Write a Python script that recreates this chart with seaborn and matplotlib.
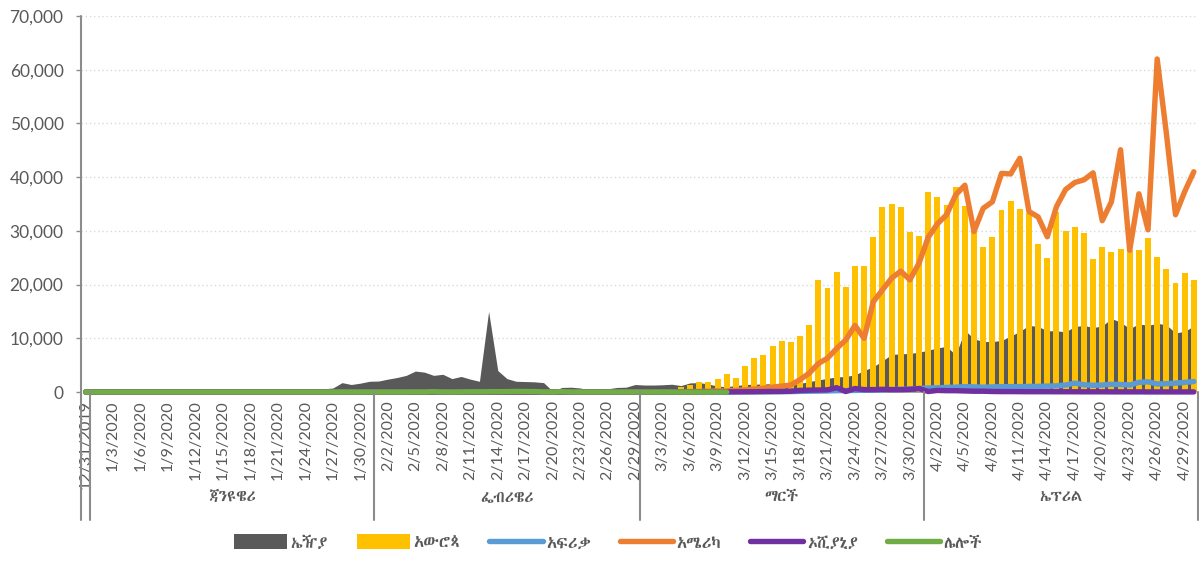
import matplotlib
matplotlib.use("Agg")
import matplotlib.pyplot as plt
import numpy as np
import pandas as pd
import seaborn as sns
from matplotlib import font_manager
from matplotlib.ft2font import FT2Font
from matplotlib.ticker import FuncFormatter

# categories: one per day, 12/31/2019 .. 4/30/2020
DATES = pd.date_range("2019-12-31", "2020-04-30", freq="D")
DATE_LABELS = [f"{d.month}/{d.day}/{d.year}" for d in DATES]
MONTH_NAMES = ["ጃንዩዌሪ", "ፌብሪዌሪ", "ማርች", "ኤፕሪል"]
SERIES = ["ኤዥያ", "አውሮጳ", "አፍሪቃ", "አሜሪካ", "ኦሺያኒያ", "ሌሎች"]

ASIA = [
    30,
    0, 0, 20, 0, 10, 0, 0, 0, 0, 0, 0, 0, 0, 0, 0, 0, 5, 20, 140, 20, 150, 140, 100, 270, 450, 600, 750, 1750, 1400, 1650, 2000,
    2050, 2400, 2700, 3100, 3900, 3700, 3100, 3300, 2500, 2900, 2400, 2000, 15000, 4000, 2500, 2000, 1950, 1900, 1750, 150,
    850, 900, 750, 350, 450, 600, 850, 900, 1400,
    1300, 1300, 1350, 1450, 1200, 1700, 1750, 1500, 1100, 1000, 1200, 1400, 1450, 1500, 1550, 1500, 1300, 1600, 1950, 2250,
    2550, 2800, 2900, 3200, 4000, 4700, 5800, 7000, 7100, 7200, 7400,
    7800, 8200, 8500, 6900, 11500, 9900, 9400, 9400, 9600, 10400, 11300, 12400, 12200, 11400, 11400, 11200, 12200, 12400,
    12000, 12300, 13700, 13000, 11800, 12700, 12400, 12800, 12500, 11000, 11300, 12300,
]
EUROPE = [
    0,
    0, 0, 0, 0, 0, 0, 0, 0, 0, 0, 0, 0, 0, 0, 0, 0, 0, 0, 0, 0, 0, 0, 0, 3, 0, 0, 1, 4, 0, 5, 0,
    2, 0, 0, 0, 0, 0, 1, 3, 4, 0, 1, 0, 1, 1, 0, 0, 0, 0, 0, 0, 3, 20, 80, 60, 100, 150, 250, 300, 350,
    400, 350, 450, 550, 870, 1300, 1800, 1860, 2420, 3350, 2670, 4900, 6330, 6890, 8630, 9430, 9400, 10430, 12410, 20920,
    19370, 22400, 19610, 23520, 23520, 28920, 34500, 35000, 34450, 29790, 29050,
    37300, 36250, 34820, 38110, 34630, 30300, 27060, 28800, 33890, 35560, 34070, 33400, 27500, 24890, 33580, 29980, 30660,
    29540, 24770, 27000, 26010, 26630, 26440, 26440, 28620, 25190, 22900, 20240, 22100, 20850,
]
AFRICA = [
    0,
    0, 0, 0, 0, 0, 0, 0, 0, 0, 0, 0, 0, 0, 0, 0, 0, 0, 0, 0, 0, 0, 0, 0, 0, 0, 0, 0, 0, 0, 0, 0,
    0, 0, 0, 0, 0, 0, 0, 0, 0, 0, 0, 0, 0, 1, 0, 0, 0, 0, 0, 0, 0, 0, 0, 0, 1, 0, 1, 0, 1,
    2, 3, 5, 8, 10, 12, 15, 15, 20, 20, 20, 30, 40, 50, 60, 80, 90, 120, 150, 170,
    200, 250, 270, 300, 330, 350, 400, 450, 500, 550, 650,
    750, 800, 850, 900, 1000, 950, 900, 950, 1000, 1000, 1000, 1050, 1050, 1100, 1150, 1300, 1650, 1350,
    1250, 1300, 1450, 1400, 1300, 1800, 1900, 1500, 1550, 1650, 1800, 1950,
]
AMERICAS = [
    0,
    0, 0, 0, 0, 0, 0, 0, 0, 0, 0, 0, 0, 0, 0, 0, 0, 0, 0, 0, 1, 0, 0, 1, 0, 1, 0, 0, 0, 0, 0, 1,
    1, 0, 1, 0, 0, 0, 0, 0, 0, 1, 0, 0, 0, 0, 0, 0, 0, 0, 0, 0, 0, 0, 0, 2, 2, 5, 8, 10, 12,
    15, 20, 30, 40, 60, 80, 100, 150, 200, 200, 300, 400, 550, 700, 900, 1100, 1300, 2300, 3500, 5300,
    6300, 8100, 9700, 12400, 10000, 16800, 19000, 21200, 22500, 20900, 24000,
    28800, 31300, 33000, 36700, 38500, 29900, 34200, 35400, 40700, 40600, 43500, 33600, 32600, 28900, 34500, 37700, 39000,
    39500, 40800, 31900, 35400, 45100, 26400, 36900, 30200, 62000, 48200, 33000, 37300, 41000,
]
OCEANIA = [
    0,
    0, 0, 0, 0, 0, 0, 0, 0, 0, 0, 0, 0, 0, 0, 0, 0, 0, 0, 0, 0, 0, 0, 0, 0, 1, 0, 0, 0, 0, 2, 0,
    1, 0, 0, 0, 0, 0, 0, 0, 0, 0, 0, 0, 0, 0, 0, 0, 0, 0, 0, 0, 0, 0, 0, 0, 0, 0, 1, 2, 3,
    5, 8, 10, 12, 15, 20, 20, 25, 25, 30, 40, 50, 60, 80, 100, 100, 150, 300, 350, 370,
    400, 800, 100, 650, 450, 450, 500, 450, 450, 500, 650,
    100, 300, 250, 250, 200, 150, 150, 100, 80, 80, 70, 60, 60, 60, 50, 50, 50, 40,
    40, 40, 30, 30, 30, 30, 20, 20, 20, 20, 20, 20,
]
# "other" only reported up to 3/10/2020
OTHER = [
    0,
    0, 0, 0, 0, 0, 0, 0, 0, 0, 0, 0, 0, 0, 0, 0, 0, 0, 0, 0, 0, 0, 0, 0, 0, 0, 0, 0, 0, 0, 0, 0,
    0, 0, 0, 0, 10, 0, 60, 0, 0, 6, 40, 40, 44, 67, 70, 99, 88, 79, 13, 0, 57, 0, 0, 0, 0, 0, 0, 0, 0,
    0, 0, 0, 0, 0, 0, 0, 0, 0, 0,
]

COLORS = ["#595959", "#FFC000", "#5B9BD5", "#ED7D31", "#7030A0", "#70AD47"]
TEXT = "#595959"
AXIS = "#8C8C8C"


def ethiopic_family(fallback="DejaVu Sans"):
    entries = sorted(font_manager.fontManager.ttflist,
                     key=lambda e: 0 if ("thiopic" in e.name or "Abyssinica" in e.name) else 1)
    for entry in entries:
        try:
            if 0x12A4 in FT2Font(entry.fname).get_charmap():
                return entry.name
        except Exception:
            continue
    return fallback


sns.set_theme(style="white")
plt.rcParams["font.family"] = ["Lato", "DejaVu Sans"]
eth = ethiopic_family()

fig = plt.figure(figsize=(11.99, 5.61), dpi=100)
ax = fig.add_axes([0.0676, 0.3012, 0.9319, 0.6703])

x = np.arange(len(DATES))
ax.fill_between(x, ASIA, 0, color=COLORS[0], lw=0, label=SERIES[0], zorder=1)
sns.barplot(x=x, y=EUROPE, color=COLORS[1], saturation=1, width=0.65, native_scale=True,
            errorbar=None, label=SERIES[1], ax=ax, zorder=2, linewidth=0)
for vals, col, name in zip([AFRICA, AMERICAS, OCEANIA, OTHER], COLORS[2:], SERIES[2:]):
    sns.lineplot(x=x[:len(vals)], y=vals, color=col, lw=3.9, label=name, ax=ax, clip_on=False,
                 solid_capstyle="round", solid_joinstyle="round", zorder=3)

ax.set_xlim(-0.5, len(x) - 0.5)
ax.set_ylim(0, 70000)
ax.set_yticks(np.arange(0, 70001, 10000))
ax.yaxis.set_major_formatter(FuncFormatter(lambda v, p: f"{v:,.0f}"))
ax.yaxis.grid(True, linestyle=(0, (1, 2)), color="#D9D9D9", lw=1)
ax.xaxis.grid(False)
ax.set_axisbelow(True)
for side in ["top", "right", "bottom", "left"]:
    ax.spines[side].set_visible(False)

ax.set_xticks(x[::3])
ax.set_xticklabels(DATE_LABELS[::3], rotation=90, fontsize=11.5, color=TEXT)
ax.tick_params(axis="x", length=0, pad=6)
ax.tick_params(axis="y", length=3.6, width=1, color=AXIS, labelsize=12.5, labelcolor=TEXT, pad=9, left=True)
ax.set_xlabel("")
ax.set_ylabel("")

# y-axis line and month group separators running down through the label area
trans = ax.get_xaxis_transform()
month_start = [0] + [i for i in range(1, len(DATES)) if DATES[i].month != DATES[i - 1].month]
edges = [i - 0.5 for i in month_start] + [len(DATES) - 0.5]
ax.plot([-0.5, -0.5], [1, -0.34], color=AXIS, lw=1.5, transform=trans, clip_on=False, zorder=5)
for e in edges[1:]:
    ax.plot([e, e], [0, -0.34], color=AXIS, lw=1.5, transform=trans, clip_on=False, zorder=5)
for name, a, b in zip(MONTH_NAMES, edges[1:-1], edges[2:]):
    ax.text((a + b) / 2, -0.279, name, transform=trans, ha="center", va="center",
            fontsize=11.5, color=TEXT, family=[eth, "DejaVu Sans"])

handles, labels = ax.get_legend_handles_labels()
lookup = dict(zip(labels, handles))
if ax.get_legend() is not None:
    ax.get_legend().remove()
fig.legend([lookup[s] for s in SERIES], SERIES, loc="center", bbox_to_anchor=(0.507, 0.032), ncol=6,
           frameon=False, handlelength=3.2, handleheight=1.0, handletextpad=0.2, columnspacing=1.75,
           prop={"family": [eth, "DejaVu Sans"], "size": 12}, labelcolor=TEXT)

fig.savefig("out.png", dpi=100)
